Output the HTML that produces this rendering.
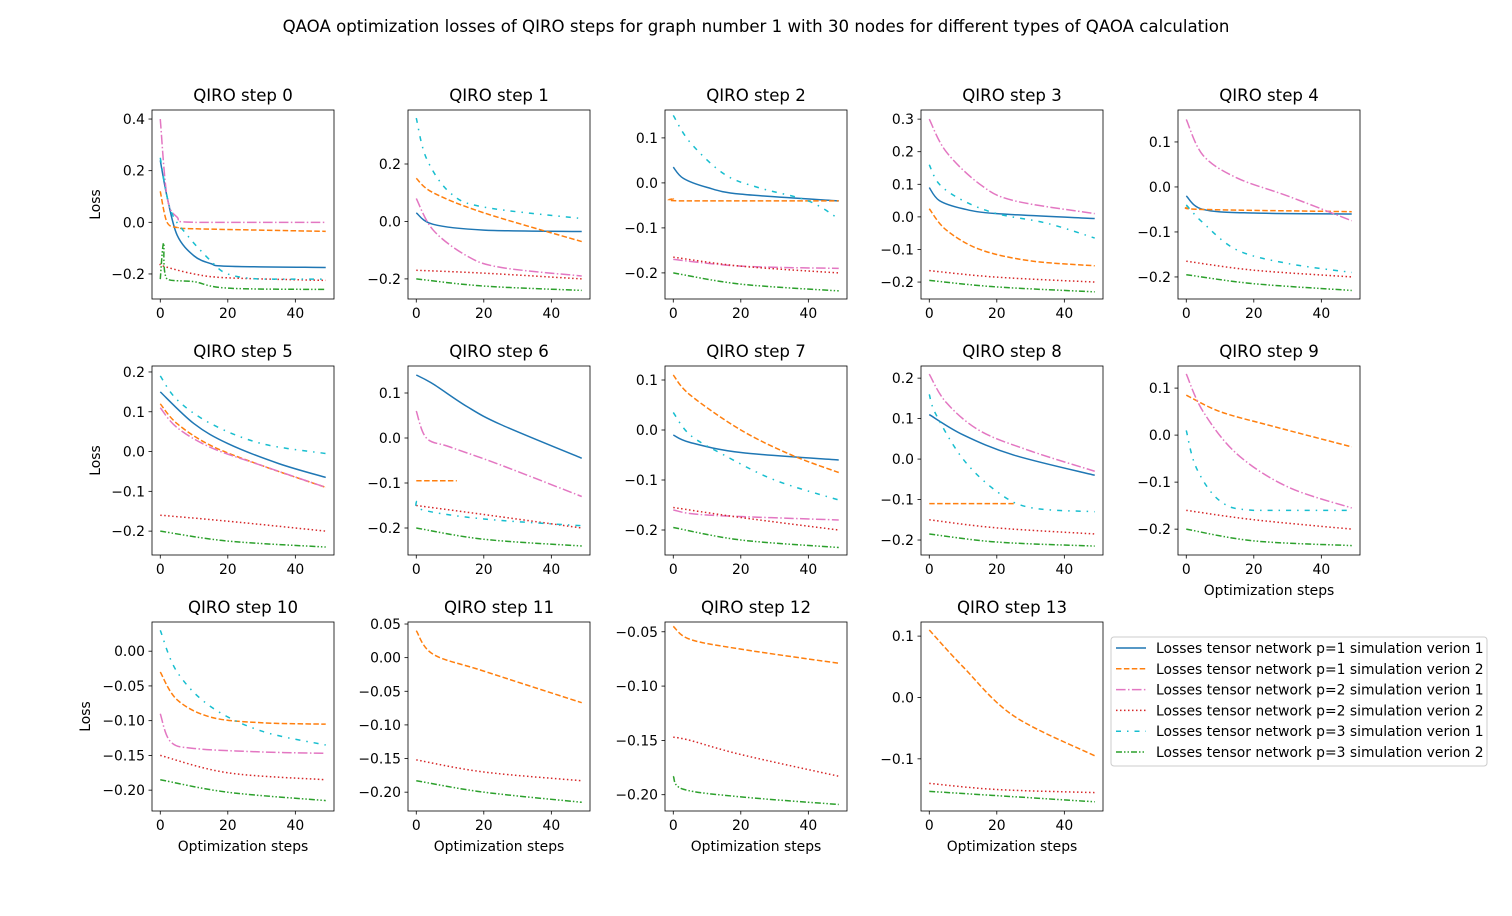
<!DOCTYPE html>
<html><head><meta charset="utf-8">
<style>
body{margin:0;background:#fff;}
svg text{font-family:"DejaVu Sans","Liberation Sans",sans-serif;fill:#000;}
</style></head>
<body>
<svg id="fig" width="1512" height="911" xmlns="http://www.w3.org/2000/svg">
<rect width="1512" height="911" fill="#fff"/>
<text x="756" y="32" font-size="16.6" text-anchor="middle">QAOA optimization losses of QIRO steps for graph number 1 with 30 nodes for different types of QAOA calculation</text>
</svg>
<script>
// series: [x, y] points per subplot
const s0 = {b:[[0,0.24],[2,0.1],[5,-0.05],[10,-0.13],[15,-0.16],[20,-0.17],[49,-0.175]],
 o:[[0,0.12],[2,0.0],[5,-0.02],[10,-0.025],[49,-0.035]],
 p:[[0,0.4],[2,0.1],[5,0.02],[10,0.0],[49,0.0]],
 r:[[0,-0.16],[1,-0.17],[10,-0.2],[20,-0.215],[49,-0.225]],
 c:[[0,0.25],[3,0.05],[8,-0.05],[15,-0.15],[20,-0.2],[30,-0.22],[49,-0.22]],
 g:[[0,-0.22],[1,-0.08],[2,-0.22],[10,-0.23],[20,-0.255],[49,-0.26]]};
const s1 = {b:[[0,0.03],[5,-0.01],[20,-0.03],[49,-0.035]],
 o:[[0,0.15],[5,0.1],[20,0.03],[49,-0.07]],
 p:[[0,0.08],[5,-0.03],[15,-0.12],[25,-0.16],[49,-0.19]],
 r:[[0,-0.17],[20,-0.18],[49,-0.2]],
 c:[[0,0.36],[3,0.22],[10,0.1],[20,0.05],[49,0.01]],
 g:[[0,-0.2],[20,-0.225],[49,-0.24]]};
const s2 = {b:[[0,0.035],[3,0.01],[10,-0.01],[20,-0.025],[49,-0.04]],
 o:[[0,-0.035],[3,-0.04],[49,-0.04]],
 p:[[0,-0.17],[20,-0.185],[49,-0.19]],
 r:[[0,-0.165],[20,-0.185],[49,-0.2]],
 c:[[0,0.15],[5,0.09],[15,0.02],[25,-0.01],[40,-0.04],[49,-0.08]],
 g:[[0,-0.2],[20,-0.225],[49,-0.24]]};
const s3 = {b:[[0,0.09],[3,0.05],[10,0.025],[20,0.01],[49,-0.005]],
 o:[[0,0.025],[5,-0.04],[15,-0.1],[30,-0.135],[49,-0.15]],
 p:[[0,0.3],[5,0.2],[15,0.1],[25,0.05],[49,0.01]],
 r:[[0,-0.165],[20,-0.185],[49,-0.2]],
 c:[[0,0.16],[3,0.1],[10,0.05],[20,0.01],[35,-0.02],[49,-0.065]],
 g:[[0,-0.195],[20,-0.215],[49,-0.23]]};
const s4 = {b:[[0,-0.02],[5,-0.05],[20,-0.058],[49,-0.06]],
 o:[[0,-0.045],[5,-0.05],[49,-0.055]],
 p:[[0,0.15],[5,0.07],[15,0.02],[30,-0.02],[49,-0.075]],
 r:[[0,-0.165],[20,-0.185],[49,-0.2]],
 c:[[0,-0.04],[5,-0.08],[15,-0.14],[30,-0.17],[49,-0.19]],
 g:[[0,-0.195],[20,-0.215],[49,-0.23]]};
const s5 = {b:[[0,0.15],[10,0.07],[20,0.02],[35,-0.03],[49,-0.065]],
 o:[[0,0.12],[5,0.07],[15,0.015],[30,-0.035],[49,-0.09]],
 p:[[0,0.11],[5,0.06],[15,0.01],[30,-0.035],[49,-0.09]],
 r:[[0,-0.16],[20,-0.175],[49,-0.2]],
 c:[[0,0.19],[5,0.13],[15,0.07],[30,0.02],[49,-0.005]],
 g:[[0,-0.2],[20,-0.225],[49,-0.24]]};
const s6 = {b:[[0,0.14],[5,0.12],[15,0.07],[25,0.03],[49,-0.045]],
 o:[[0,-0.095],[12,-0.095]],
 p:[[0,0.06],[3,0.0],[10,-0.02],[25,-0.06],[49,-0.13]],
 r:[[0,-0.15],[20,-0.17],[49,-0.2]],
 c:[[0,-0.14],[2,-0.16],[20,-0.18],[49,-0.195]],
 g:[[0,-0.2],[20,-0.225],[49,-0.24]]};
const s7 = {b:[[0,-0.01],[5,-0.025],[20,-0.045],[49,-0.06]],
 o:[[0,0.11],[5,0.07],[20,0.0],[35,-0.05],[49,-0.085]],
 p:[[0,-0.16],[10,-0.17],[49,-0.18]],
 r:[[0,-0.155],[20,-0.175],[49,-0.2]],
 c:[[0,0.035],[5,-0.01],[15,-0.05],[30,-0.1],[49,-0.14]],
 g:[[0,-0.195],[20,-0.22],[49,-0.235]]};
const s8 = {b:[[0,0.11],[10,0.06],[25,0.01],[49,-0.04]],
 o:[[0,-0.11],[25,-0.11]],
 p:[[0,0.21],[5,0.14],[15,0.07],[30,0.02],[49,-0.03]],
 r:[[0,-0.15],[20,-0.17],[49,-0.185]],
 c:[[0,0.16],[2,0.11],[10,0.0],[20,-0.08],[30,-0.12],[49,-0.13]],
 g:[[0,-0.185],[20,-0.205],[49,-0.215]]};
const s9 = {o:[[0,0.085],[10,0.05],[25,0.02],[49,-0.025]],
 p:[[0,0.13],[5,0.05],[15,-0.04],[30,-0.11],[49,-0.155]],
 r:[[0,-0.16],[20,-0.18],[49,-0.2]],
 c:[[0,0.01],[3,-0.07],[10,-0.14],[20,-0.16],[49,-0.16]],
 g:[[0,-0.2],[20,-0.225],[49,-0.235]]};
const s10 = {o:[[0,-0.03],[5,-0.07],[15,-0.095],[30,-0.103],[49,-0.105]],
 p:[[0,-0.09],[3,-0.13],[10,-0.14],[30,-0.145],[49,-0.147]],
 r:[[0,-0.15],[20,-0.175],[49,-0.185]],
 c:[[0,0.03],[5,-0.03],[15,-0.08],[30,-0.115],[49,-0.135]],
 g:[[0,-0.185],[20,-0.203],[49,-0.215]]};
const s11 = {o:[[0,0.04],[5,0.005],[20,-0.02],[49,-0.067]],
 r:[[0,-0.152],[20,-0.17],[49,-0.183]],
 g:[[0,-0.183],[20,-0.2],[49,-0.215]]};
const s12 = {o:[[0,-0.045],[5,-0.057],[20,-0.066],[49,-0.079]],
 r:[[0,-0.147],[5,-0.15],[20,-0.163],[49,-0.183]],
 g:[[0,-0.183],[3,-0.195],[20,-0.202],[49,-0.209]]};
const s13 = {o:[[0,0.11],[10,0.05],[25,-0.03],[49,-0.095]],
 r:[[0,-0.14],[20,-0.15],[49,-0.155]],
 g:[[0,-0.153],[20,-0.16],[49,-0.17]]};
const seriesData = [s0,s1,s2,s3,s4,s5,s6,s7,s8,s9,s10,s11,s12,s13];
const yLims = [[-0.297,0.435],[-0.27,0.388],[-0.258,0.162],[-0.252,0.328],[-0.249,0.171],
 [-0.26,0.215],[-0.26,0.16],[-0.25,0.128],[-0.237,0.23],[-0.255,0.147],
 [-0.23,0.042],[-0.228,0.053],[-0.215,-0.041],[-0.185,0.123]];
const yStep = [0.2,0.2,0.1,0.1,0.1,0.1,0.1,0.1,0.1,0.1,0.05,0.05,0.05,0.1];
const xTicks = [0,20,40];
const legendLabels = ["Losses tensor network p=1 simulation verion 1","Losses tensor network p=1 simulation verion 2","Losses tensor network p=2 simulation verion 1","Losses tensor network p=2 simulation verion 2","Losses tensor network p=3 simulation verion 1","Losses tensor network p=3 simulation verion 2"];

const keys=['b','o','p','r','c','g'];
const colors={b:'#1f77b4',o:'#ff7f0e',p:'#e377c2',r:'#d62728',c:'#17becf',g:'#2ca02c'};
const dashes={b:'',o:'5.5,2.4',p:'9.6,2.4,1.5,2.4',r:'1.5,2.5',c:'5,6,1.5,6',g:'6,2,1.5,2,1.5,2'};
const colX=[152,408,665,921,1178], rowY=[110,366,622], W=182, H=189;
const FS=13.9;
const svg=document.getElementById('fig');
const NS='http://www.w3.org/2000/svg';
function mk(t,a,p){const e=document.createElementNS(NS,t);for(const k in a)e.setAttribute(k,a[k]);(p||svg).appendChild(e);return e;}
function pathFor(pts,fx,fy){
  const P=pts.map(q=>[fx(q[0]),fy(q[1])]);
  let d='M'+P[0][0]+','+P[0][1];
  for(let i=0;i<P.length-1;i++){
    const p0=P[i-1]||P[i],p1=P[i],p2=P[i+1],p3=P[i+2]||p2;
    const t=6;
    let c1x=p1[0]+(p2[0]-p0[0])/t,c1y=p1[1]+(p2[1]-p0[1])/t;
    let c2x=p2[0]-(p3[0]-p1[0])/t,c2y=p2[1]-(p3[1]-p1[1])/t;
    const lo=Math.min(p1[1],p2[1]),hi=Math.max(p1[1],p2[1]);
    c1y=Math.max(lo,Math.min(hi,c1y));c2y=Math.max(lo,Math.min(hi,c2y));
    d+=` C${c1x},${c1y} ${c2x},${c2y} ${p2[0]},${p2[1]}`;
  }
  return d;
}
function fmt(v,dec){const s=Math.abs(v).toFixed(dec);return (v<-1e-9?'\u2212':'')+s;}
seriesData.forEach((sd,i)=>{
  const r=Math.floor(i/5),c=i%5;
  const x0=colX[c],y0=rowY[r];
  const g=mk('g',{});
  
  
  const [ymin,ymax]=yLims[i];
  const fx=v=>x0+(v+2.45)/53.9*W;
  const fy=v=>y0+H-(v-ymin)/(ymax-ymin)*H;
  const clip=mk('clipPath',{id:'cp'+i},g);
  mk('rect',{x:x0,y:y0,width:W,height:H},clip);
  keys.forEach(k=>{
    if(!sd[k])return;
    const p=mk('path',{d:pathFor(sd[k],fx,fy),fill:'none',stroke:colors[k],'stroke-width':1.5,'stroke-dasharray':dashes[k],'clip-path':`url(#cp${i})`},g);
    
    
  });
  const fr=mk('rect',{x:x0,y:y0,width:W,height:H,fill:'none',stroke:'#000','stroke-width':0.8},g);
  
  
  xTicks.forEach(t=>{
    const X=fx(t);
    mk('line',{x1:X,x2:X,y1:y0+H,y2:y0+H+3.5,stroke:'#000','stroke-width':0.8},g);
    const tx=mk('text',{x:X,y:y0+H+19,'font-size':FS,'text-anchor':'middle'},g);
    tx.textContent=t;
    
    
  });
  const st=yStep[i],dec=st<0.1?2:1;
  for(let k=Math.ceil(ymin/st-1e-6);k*st<=ymax+1e-9;k++){
    const v=k*st,Y=fy(v);
    mk('line',{x1:x0-3.5,x2:x0,y1:Y,y2:Y,stroke:'#000','stroke-width':0.8},g);
    const ty=mk('text',{x:x0-7,y:Y+5,'font-size':FS,'text-anchor':'end'},g);
    ty.textContent=fmt(v,dec);
    
    
  }
  const tt=mk('text',{x:x0+W/2,y:y0-9,'font-size':16.6,'text-anchor':'middle'},g);
  tt.textContent='QIRO step '+i;
  
  
  if(c===0){
    const yl=mk('text',{x:0,y:0,'font-size':FS,'text-anchor':'middle',transform:`translate(${x0-(i===10?62:52)},${y0+H/2}) rotate(-90)`},g);
    yl.textContent='Loss';
    
    
  }
  if(r===2||i===9){
    const xl=mk('text',{x:x0+W/2,y:y0+H+40,'font-size':FS,'text-anchor':'middle'},g);
    xl.textContent='Optimization steps';
    
    
  }
});
// legend
const lg=mk('g',{});


mk('rect',{x:1111,y:637,width:376,height:129,rx:3,fill:'#fff',stroke:'#ccc','stroke-width':1},lg);
legendLabels.forEach((lab,j)=>{
  const Y=648+j*20.8,k=keys[j];
  const e=mk('g',{},lg);
  
  
  mk('line',{x1:1116,x2:1146,y1:Y,y2:Y,stroke:colors[k],'stroke-width':1.5,'stroke-dasharray':dashes[k]},e);
  const t=mk('text',{x:1156,y:Y+5,'font-size':FS},e);
  t.textContent=lab;
});
</script>
</body></html>
